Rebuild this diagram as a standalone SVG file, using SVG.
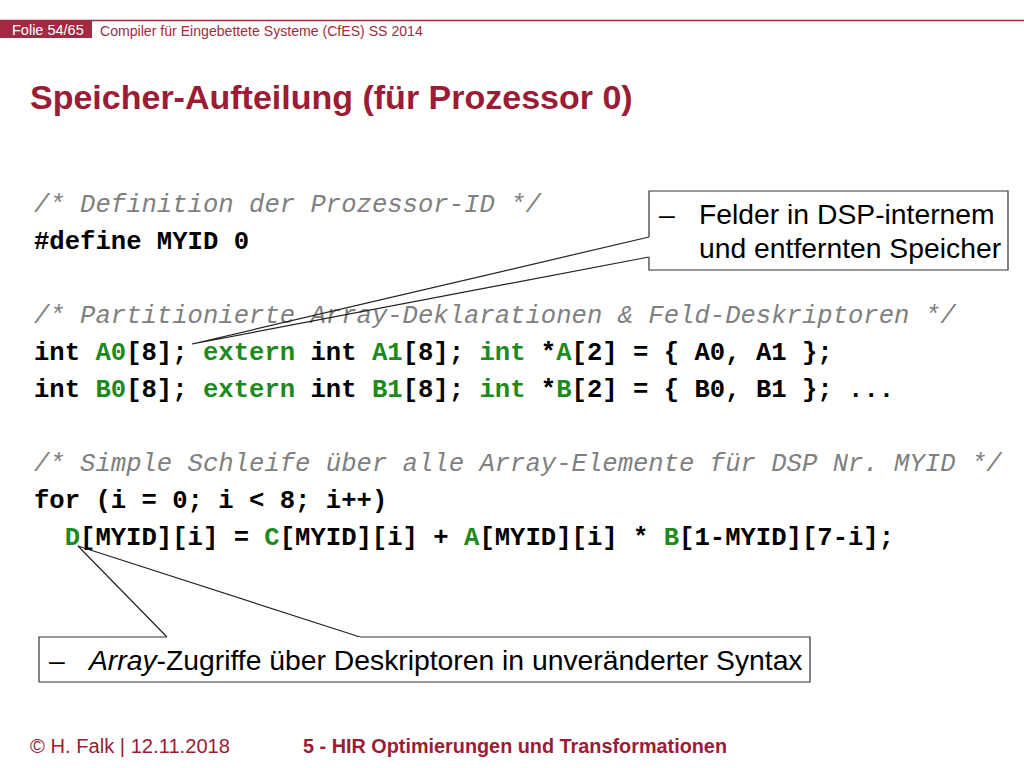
<svg xmlns="http://www.w3.org/2000/svg" width="1024" height="768" viewBox="0 0 1024 768">
<style>
.hdr{font-family:"Liberation Sans",Arial,sans-serif;font-size:14.1px;fill:#a32a40}
.title{font-family:"Liberation Sans",Arial,sans-serif;font-weight:bold;font-size:34px;fill:#9b1c34}
.code{font-family:"Liberation Mono","Courier New",monospace;font-size:25.6px;font-weight:bold;fill:#000;white-space:pre}
.cmt{font-family:"Liberation Mono","Courier New",monospace;font-size:25.6px;font-style:italic;fill:#808080;white-space:pre}
.g{fill:#1e8a1e}
.box{fill:#fff;stroke:#333;stroke-width:1.2}
.ptr{fill:none;stroke:#222;stroke-width:1.2}
.lbl{font-family:"Liberation Sans",Arial,sans-serif;font-size:28.3px;fill:#000}
.foot{font-family:"Liberation Sans Narrow","Liberation Sans",Arial,sans-serif;font-size:20px;fill:#9b1c34}
</style>
<rect width="1024" height="768" fill="#fff"/>
<g id="header">
<line x1="0" y1="20.5" x2="1024" y2="20.5" stroke="#a32a40" stroke-width="1.5"/>
<rect x="0" y="20" width="92" height="18" fill="#a32a40"/>
<text x="12" y="34.5" font-family="Liberation Sans,Arial,sans-serif" font-size="14.5" fill="#fff">Folie 54/65</text>
<text class="hdr" x="100" y="36">Compiler für Eingebettete Systeme (CfES) SS 2014</text>
</g>
<text class="title" x="30" y="109">Speicher-Aufteilung (für Prozessor 0)</text>
<g id="code">
<text class="cmt" x="34" y="212">/* Definition der Prozessor-ID */</text>
<text class="code" x="34" y="249">#define MYID 0</text>
<text class="cmt" x="34" y="323">/* Partitionierte Array-Deklarationen &amp; Feld-Deskriptoren */</text>
<text class="code" x="34" y="360">int <tspan class="g">A0</tspan>[8]; <tspan class="g">extern</tspan> int <tspan class="g">A1</tspan>[8]; <tspan class="g">int</tspan> *<tspan class="g">A</tspan>[2] = { A0, A1 };</text>
<text class="code" x="34" y="397">int <tspan class="g">B0</tspan>[8]; <tspan class="g">extern</tspan> int <tspan class="g">B1</tspan>[8]; <tspan class="g">int</tspan> *<tspan class="g">B</tspan>[2] = { B0, B1 }; ...</text>
<text class="cmt" x="34" y="471">/* Simple Schleife über alle Array-Elemente für DSP Nr. MYID */</text>
<text class="code" x="34" y="508">for (i = 0; i &lt; 8; i++)</text>
<text class="code" x="64.7" y="545"><tspan class="g">D</tspan>[MYID][i] = <tspan class="g">C</tspan>[MYID][i] + <tspan class="g">A</tspan>[MYID][i] * <tspan class="g">B</tspan>[1-MYID][7-i];</text>
</g>
<g id="connectors">
<path class="ptr" d="M649,237 L192,344 L649,257"/>
<path class="ptr" d="M167,637 L78,546 L360,637"/>
</g>
<g id="callout1">
<path class="box" d="M649,237 L649,191 L1008,191 L1008,270 L649,270 L649,257"/>
<text class="lbl" x="659" y="224">–</text>
<text class="lbl" x="699" y="224">Felder in DSP-internem</text>
<text class="lbl" x="699" y="258">und entfernten Speicher</text>
</g>
<g id="callout2">
<path class="box" d="M167,637 L39,637 L39,682 L810,682 L810,637 L360,637"/>
<text class="lbl" x="49" y="670">–</text>
<text class="lbl" x="89" y="670"><tspan font-style="italic">Array</tspan>-Zugriffe über Deskriptoren in unveränderter Syntax</text>
</g>
<g id="footer">
<text class="foot" x="30" y="753" textLength="200" lengthAdjust="spacingAndGlyphs">© H. Falk | 12.11.2018</text>
<text class="foot" x="303" y="753" font-weight="bold" textLength="424" lengthAdjust="spacingAndGlyphs">5 - HIR Optimierungen und Transformationen</text>
</g>
</svg>
